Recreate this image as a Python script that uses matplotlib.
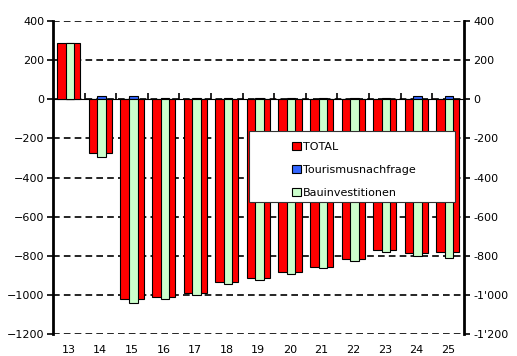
import matplotlib.pyplot as plt
import numpy as np
from matplotlib.patches import Rectangle, Patch
from matplotlib.ticker import FuncFormatter

years = ['13', '14', '15', '16', '17', '18', '19', '20', '21', '22', '23', '24', '25']
total = [290, -275, -1020, -1010, -990, -935, -915, -885, -855, -815, -770, -785, -780]
tourismus = [0, 17, 17, 6, 6, 6, 6, 6, 6, 6, 6, 17, 17]
bau = [290, -295, -1040, -1020, -1000, -945, -925, -895, -865, -825, -780, -800, -810]

x = np.arange(len(years))

fig = plt.figure(figsize=(5.17, 3.56), dpi=100)
ax = fig.add_axes([0.1025, 0.0618, 0.7945, 0.8792])

ax.bar(x, total, width=0.73, color='#ff0000', edgecolor='black', linewidth=0.8, zorder=3)
ax.bar(x + 0.04, tourismus, width=0.27, color='#3366ff', edgecolor='black', linewidth=0.8, zorder=4)
ax.bar(x + 0.04, bau, width=0.27, color='#ccffcc', edgecolor='black', linewidth=0.8, zorder=4)

ax.set_xlim(-0.5, len(years) - 0.5)
ax.set_ylim(-1200, 400)
ax.set_yticks(np.arange(-1200, 401, 200))
ax.yaxis.grid(True, color='black', linestyle=(0, (4, 2.5)), linewidth=1.2)
ax.set_axisbelow(True)

for s in ['top', 'bottom', 'right']:
    ax.spines[s].set_visible(False)
ax.spines['left'].set_linewidth(2)
ax.tick_params(axis='y', direction='out', length=4, width=1.2, labelsize=8, pad=2)
ax.set_xticks(x)
ax.set_xticklabels(years)
ax.tick_params(axis='x', length=0, labelsize=8, pad=8)

# zero line with the category separators
zero = ax.secondary_xaxis(1200 / 1600)
zero.spines['bottom'].set_linewidth(2)
zero.spines['bottom'].set_zorder(5)
zero.set_xticks(x[:-1] + 0.5)
zero.set_xticklabels([])
zero.tick_params(axis='x', direction='out', length=4, width=1.2)

ax2 = ax.twinx()
ax2.set_ylim(ax.get_ylim())
ax2.set_yticks(np.arange(-1200, 401, 200))
ax2.yaxis.set_major_formatter(FuncFormatter(lambda v, p: f'{int(v):,}'.replace(',', "'")))
for s in ['top', 'bottom', 'left']:
    ax2.spines[s].set_visible(False)
ax2.spines['right'].set_linewidth(2)
ax2.tick_params(axis='y', direction='out', length=4, width=1.2, labelsize=8, pad=3)

# legend box
box = Rectangle((0.476, 0.422), 0.502, 0.227, transform=ax.transAxes,
                facecolor='white', edgecolor='#333333', linewidth=0.8, zorder=6)
ax.add_patch(box)
handles = [Patch(facecolor='#ff0000', edgecolor='black', linewidth=0.8),
           Patch(facecolor='#3366ff', edgecolor='black', linewidth=0.8),
           Patch(facecolor='#ccffcc', edgecolor='black', linewidth=0.8)]
leg = ax.legend(handles, ['TOTAL', 'Tourismusnachfrage', 'Bauinvestitionen'],
                loc='upper left', bbox_to_anchor=(0.568, 0.632), frameon=False,
                borderpad=0, handlelength=0.8, handleheight=0.8, handletextpad=0.2,
                labelspacing=1.15, fontsize=8)
leg.set_zorder(7)

plt.savefig('out.png', dpi=100)
